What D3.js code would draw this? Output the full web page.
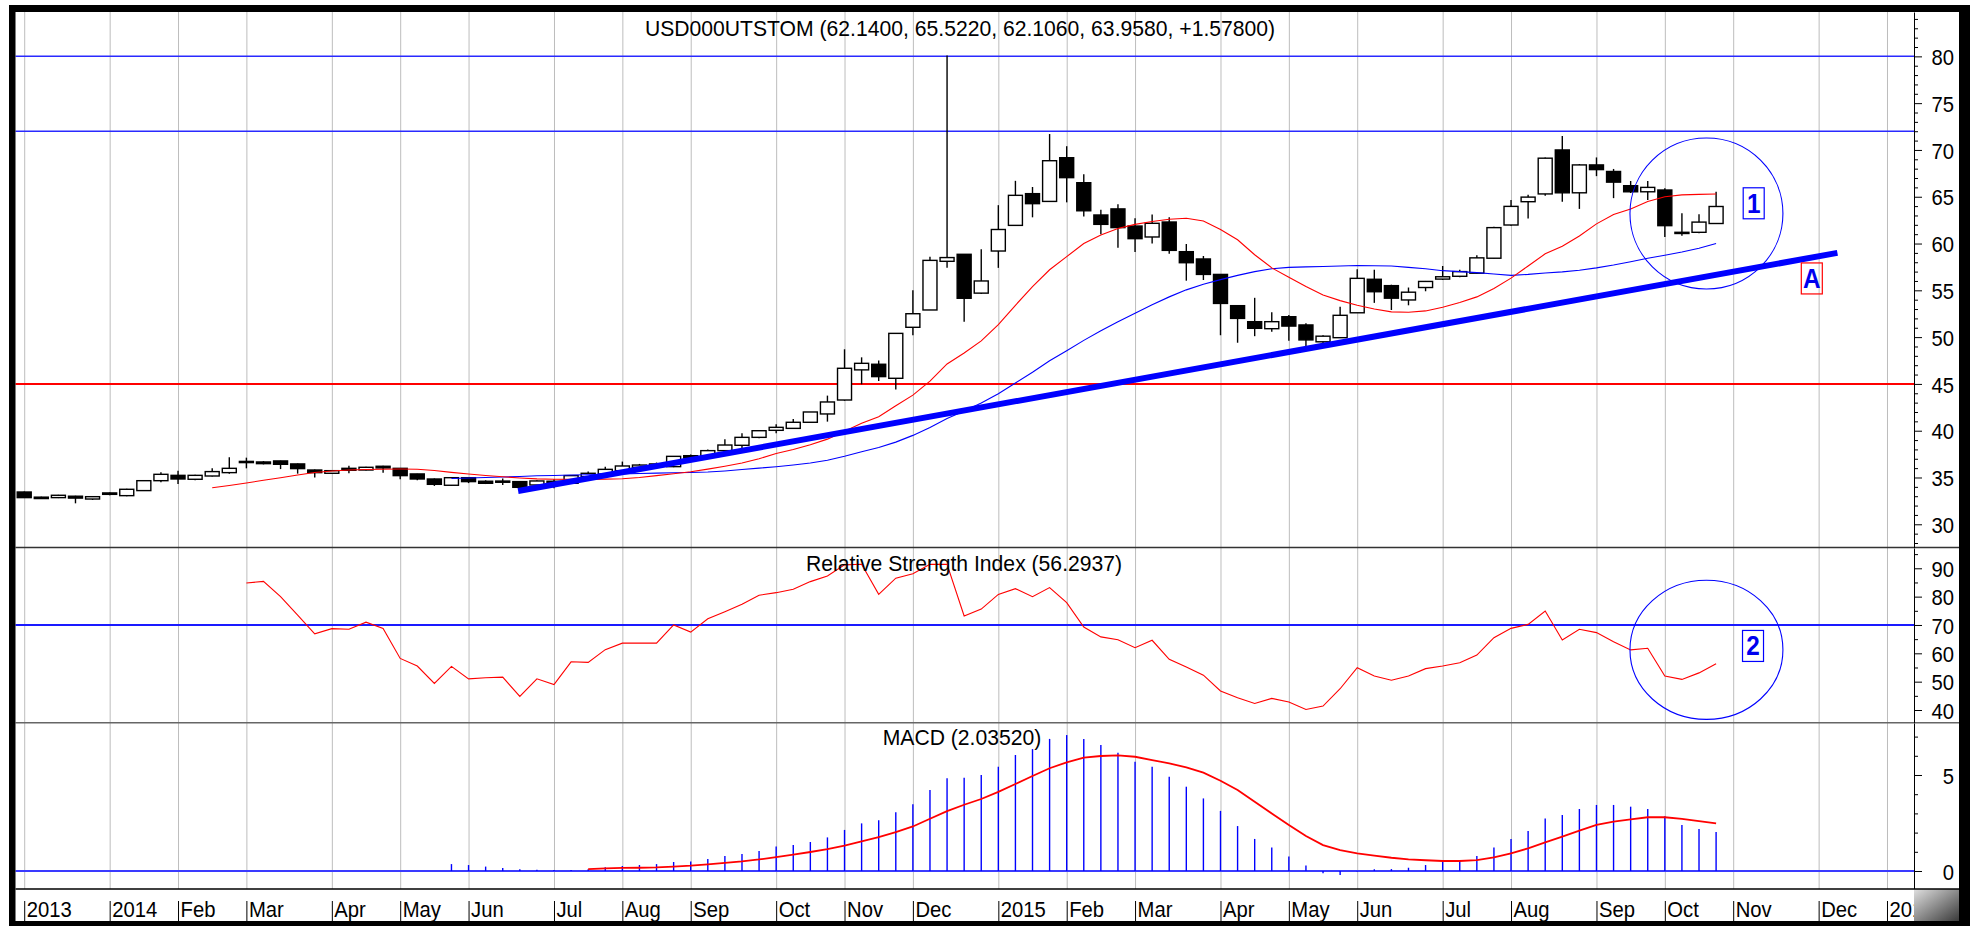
<!DOCTYPE html>
<html><head><meta charset="utf-8">
<script src="https://cdn.jsdelivr.net/npm/d3@7"></script>
<style>
body{margin:0;background:#fff;}
svg{display:block;}
text{font-family:"Liberation Sans",Arial,sans-serif;fill:#000;}
</style>
</head><body>
<svg id="chart" width="1973" height="926"></svg>
<script>
// ---------- DATA (weekly candles, index 0 = week of 2 Dec 2013) ----------
const opens  = [33.45,32.75,32.85,33.0,32.7,33.35,33.06,33.6,34.66,35.23,34.81,35.16,35.52,36.68,36.66,36.77,36.45,35.8,35.45,35.98,
                35.8,36.2,35.98,35.38,34.84,34.17,34.98,34.6,34.49,34.56,34.2,34.6,34.38,35.09,35.37,35.73,36.09,36.2,36.16,37.33,
                37.3,37.87,38.44,39.29,40.04,40.25,40.9,41.79,43.28,46.5,47.1,45.6,51.05,52.9,58.1,58.85,54.7,59.2,61.94,65.33,
                64.5,69.17,66.5,63.05,63.7,61.87,60.7,62.3,59.13,58.35,56.7,53.36,51.65,50.9,52.18,51.3,49.5,49.94,52.6,56.18,
                55.5,53.97,55.3,56.2,56.5,56.83,58.43,61.98,64.47,65.3,70.0,65.42,68.4,67.7,66.18,65.53,65.72,61.1,61.2,62.14];
const highs  = [33.5,32.95,33.15,33.05,33.0,33.4,33.8,34.7,35.55,35.73,35.3,36.0,37.16,37.12,36.75,36.8,36.5,35.85,35.8,36.25,
                36.15,36.25,36.0,35.4,34.9,35.0,35.05,34.7,34.9,34.6,34.7,34.8,35.25,35.65,36.16,36.7,36.45,36.6,37.3,37.45,
                38.0,39.08,39.72,40.05,40.7,41.25,42.0,43.75,48.7,47.84,47.5,50.4,55.0,58.6,80.1,58.85,59.4,64.1,66.7,66.04,
                71.7,70.4,67.4,63.6,64.2,62.7,63.1,62.8,59.95,58.67,56.7,53.4,54.2,52.65,52.36,51.47,50.2,53.25,57.24,57.2,
                55.6,55.3,56.0,57.6,57.2,58.74,61.8,64.65,65.2,69.2,71.5,68.5,69.2,67.97,66.68,66.68,65.9,63.24,63.13,65.522];
const lows   = [32.85,32.7,32.8,32.24,32.6,33.1,33.0,33.55,34.5,34.31,34.7,35.1,35.4,35.98,36.4,35.9,35.41,34.99,35.4,35.45,
                35.75,35.52,34.8,34.7,34.1,34.1,34.4,34.3,34.2,33.9,34.1,33.85,34.3,35.0,35.3,35.7,36.0,36.1,36.1,37.0,
                37.2,37.8,38.1,39.2,39.72,40.2,40.85,40.97,43.2,44.96,45.3,44.4,50.2,52.9,57.4,51.65,54.6,57.4,61.9,62.8,
                64.5,64.4,62.9,61.0,59.56,59.1,60.0,58.9,56.03,56.1,50.2,49.4,50.1,50.58,49.6,49.05,49.3,49.94,52.6,53.66,
                52.9,53.4,54.9,56.1,56.4,56.8,58.4,61.9,62.67,65.1,64.47,63.7,67.2,64.85,65.4,64.66,60.7,60.84,61.1,62.106];
const closes = [32.85,32.9,33.1,32.8,32.95,33.2,33.74,34.66,35.34,34.84,35.23,35.63,35.98,36.72,36.48,36.41,35.95,35.52,35.73,35.77,
                36.09,36.02,35.2,34.84,34.27,34.98,34.56,34.38,34.62,33.95,34.63,34.35,35.2,35.45,35.87,36.23,36.33,36.45,37.26,37.08,
                37.87,38.47,39.29,40.0,40.36,40.9,42.0,43.07,46.67,47.2,45.78,50.4,52.5,58.2,58.5,54.15,56.0,61.5,65.15,64.26,
                68.85,67.04,63.5,62.05,61.7,60.52,62.16,59.27,57.95,56.7,53.6,52.0,50.94,51.65,51.18,49.7,50.1,52.33,56.28,54.85,
                54.16,54.8,55.95,56.45,57.0,58.47,61.7,63.97,64.96,69.12,65.42,68.4,67.9,66.56,65.53,66.0,61.91,61.2,62.29,63.958];

// moving averages
const maShortStart = 11;
const maShort = [33.9,34.15,34.42,34.7,34.98,35.27,35.54,35.7,35.8,35.85,35.88,35.9,35.88,35.75,35.55,35.38,35.22,35.08,34.95,34.85,
                 34.82,34.8,34.8,34.83,34.87,35.0,35.2,35.4,35.62,35.89,36.2,36.55,37.0,37.56,38.0,38.5,39.1,39.95,40.8,41.5,
                 42.67,43.8,45.3,47.13,48.3,49.6,51.33,53.4,55.4,57.2,58.6,60.0,60.9,61.6,62.05,62.35,62.6,62.7,62.4,61.5,
                 60.4,58.8,57.4,56.4,55.4,54.5,53.9,53.4,53.0,52.7,52.65,52.8,53.2,53.7,54.3,55.2,56.3,57.6,58.9,59.7,
                 60.8,62.1,63.1,63.7,64.5,65.0,65.2,65.25,65.3];
const maLongStart = 25;
const maLong = [34.9,34.95,35.0,35.05,35.1,35.18,35.22,35.27,35.3,35.35,35.39,35.43,35.47,35.5,35.54,35.58,35.7,35.85,36.0,36.15,
                36.33,36.55,36.85,37.27,37.75,38.2,38.78,39.5,40.35,41.3,42.1,42.95,43.95,45.1,46.25,47.48,48.55,49.65,50.69,51.65,
                52.55,53.47,54.3,55.05,55.65,56.14,56.6,57.0,57.3,57.45,57.51,57.55,57.6,57.65,57.62,57.6,57.45,57.3,57.1,57.0,
                56.89,56.75,56.6,56.7,56.85,56.97,57.15,57.4,57.7,58.05,58.42,58.75,59.1,59.5,60.0];

// RSI
const rsiStart = 13;
const rsiValues = [84.8,85.4,80.0,73.5,66.9,68.7,68.5,71.0,68.8,58.2,55.5,49.4,55.4,51.0,51.4,51.6,44.8,51.0,49.0,57.0,
                   56.8,61.3,63.6,63.6,63.6,70.0,67.5,72.2,74.7,77.3,80.5,81.4,82.6,85.3,87.3,91.2,91.4,80.8,86.5,88.1,
                   91.4,91.4,73.2,75.6,80.8,82.8,80.0,83.2,77.9,69.3,65.8,64.8,62.0,64.6,57.9,55.2,52.3,46.7,44.3,42.3,
                   44.1,42.8,40.2,41.4,47.5,54.9,52.0,50.5,52.0,54.6,55.5,56.7,59.4,65.5,68.8,70.2,74.9,64.7,68.5,67.3,
                   64.1,61.2,61.8,52.0,50.8,53.1,56.29];

// MACD histogram and signal
const macdStart = 25;
const macdHist = [0.36,0.31,0.23,0.16,0.09,0.07,0.05,0.05,0.09,0.19,0.26,0.31,0.36,0.47,0.49,0.63,0.78,0.89,1.04,1.27,
                  1.35,1.51,1.75,2.14,2.48,2.64,3.06,3.47,4.22,4.83,4.86,5.0,5.43,6.04,6.35,6.88,7.08,6.88,6.56,6.16,
                  5.69,5.43,4.91,4.39,3.78,3.13,2.34,1.67,1.22,0.75,0.28,-0.12,-0.21,-0.02,0.09,0.10,0.17,0.31,0.49,0.57,
                  0.78,1.22,1.67,2.08,2.74,2.92,3.23,3.44,3.44,3.35,3.23,2.85,2.40,2.19,2.035];
const signalStart = 33;
const macdSignal = [0.10,0.14,0.16,0.17,0.19,0.23,0.28,0.35,0.42,0.50,0.60,0.72,0.85,0.99,1.14,1.32,1.54,1.77,2.02,2.32,
                    2.72,3.12,3.45,3.75,4.12,4.53,4.95,5.35,5.66,5.90,5.99,6.02,5.95,5.78,5.61,5.40,5.12,4.70,4.22,3.61,
                    3.0,2.40,1.82,1.35,1.09,0.92,0.80,0.69,0.61,0.56,0.52,0.52,0.57,0.71,0.92,1.18,1.49,1.79,2.10,2.40,
                    2.57,2.69,2.80,2.80,2.71,2.60,2.48];

// x-axis categories (week index of first week of each month)
const monthIdx    = [0,5,9,13,18,22,26,31,35,39,44,48,52,57,61,65,70,74,78,83,87,92,96,100,105,109];
const monthLabels = ["2013","2014","Feb","Mar","Apr","May","Jun","Jul","Aug","Sep","Oct","Nov","Dec",
                     "2015","Feb","Mar","Apr","May","Jun","Jul","Aug","Sep","Oct","Nov","Dec","2016"];

// tick labels
const priceTicks = [30,35,40,45,50,55,60,65,70,75,80];
const rsiTicks   = [40,50,60,70,80,90];
const macdTicks  = [0,5];

// horizontal levels and drawings
const resistanceLevels = [80,72];
const supportLevels    = [45];
const rsiLevels        = [70];
const trendLine  = [[28.9,33.55],[106.1,59.0]];
const priceEllipse = {i0:93.96, i1:102.91, v0:55.14, v1:71.28};
const rsiEllipse   = {i0:93.96, i1:102.91, v0:36.7,  v1:85.8};
const labelsPrice  = [{t:"1", i:101.2, v:64.3, box:"#0000ff"},{t:"A", i:104.6, v:56.27, box:"#ff0000"}];
const labelsRsi    = [{t:"2", i:101.16, v:62.6, box:"#0000ff"}];

const titlePrice = "USD000UTSTOM (62.1400, 65.5220, 62.1060, 63.9580, +1.57800)";
const titleRsi   = "Relative Strength Index (56.2937)";
const titleMacd  = "MACD (2.03520)";

// ---------- LAYOUT ----------
const L = 15.5, R = 1914;
const P = {top:12, bot:547.5}, RS = {top:548, bot:722.7}, M = {top:723, bot:889};
const axisBottomY = 889, frameInnerBottom = 921, frameInnerRight = 1959;
const FONT = "'Liberation Sans',Arial,sans-serif";

const svg = d3.select("#chart");
const x  = d3.scaleLinear().domain([-0.51, 110.58]).range([L, R]);
const yP = d3.scaleLinear().domain([27.52, 84.74]).range([P.bot, P.top]);
const yR = d3.scaleLinear().domain([35.52, 97.16]).range([RS.bot, RS.top]);
const yM = d3.scaleLinear().domain([-0.9375, 7.708]).range([M.bot, M.top]);

svg.append("rect").attr("width",1973).attr("height",926).attr("fill","#fff");

const defs = svg.append("defs");
defs.append("clipPath").attr("id","plotClip").append("rect")
  .attr("x",L).attr("y",P.top).attr("width",R-L).attr("height",frameInnerBottom-P.top);
const grad = defs.append("linearGradient").attr("id","shade").attr("x1","0").attr("x2","1").attr("y1","0").attr("y2","1");
grad.append("stop").attr("offset","0").attr("stop-color","#e0e0e0");
grad.append("stop").attr("offset","1").attr("stop-color","#3a3a3a");

// vertical month gridlines
svg.append("g").attr("transform",`translate(0,${axisBottomY})`)
  .call(d3.axisBottom(x).tickValues(monthIdx).tickSize(-(axisBottomY-P.top)).tickFormat(""))
  .call(g=>g.select(".domain").remove())
  .call(g=>g.selectAll("line").attr("stroke","#bdbdbd").attr("stroke-width",1));

// horizontal level lines
const lv = svg.append("g");
lv.selectAll(".res").data(resistanceLevels).join("line")
  .attr("x1",L).attr("x2",R).attr("y1",d=>yP(d)).attr("y2",d=>yP(d))
  .attr("stroke","#2a2aff").attr("stroke-width",1.5);
lv.selectAll(".sup").data(supportLevels).join("line")
  .attr("x1",L).attr("x2",R).attr("y1",d=>yP(d)).attr("y2",d=>yP(d))
  .attr("stroke","#ff0000").attr("stroke-width",2);
lv.selectAll(".rl").data(rsiLevels).join("line")
  .attr("x1",L).attr("x2",R).attr("y1",d=>yR(d)).attr("y2",d=>yR(d))
  .attr("stroke","#1a1aff").attr("stroke-width",1.8);
lv.append("line").attr("x1",L).attr("x2",R).attr("y1",yM(0)).attr("y2",yM(0))
  .attr("stroke","#3a3aff").attr("stroke-width",2);

// candles
const idx = d3.range(closes.length);
const cg = svg.append("g");
cg.selectAll(".wick").data(idx).join("line")
  .attr("x1",i=>x(i)).attr("x2",i=>x(i))
  .attr("y1",i=>yP(highs[i])).attr("y2",i=>yP(lows[i]))
  .attr("stroke","#000").attr("stroke-width",1.4);
cg.selectAll(".body").data(idx).join("rect")
  .attr("x",i=>x(i)-7).attr("width",14)
  .attr("y",i=>yP(Math.max(opens[i],closes[i])))
  .attr("height",i=>Math.max(1.2, Math.abs(yP(opens[i])-yP(closes[i]))))
  .attr("fill",i=>closes[i]>=opens[i]?"#fff":"#000")
  .attr("stroke","#000").attr("stroke-width",1.4);

// moving averages
const lineP = d3.line().x(d=>x(d[0])).y(d=>yP(d[1]));
svg.append("path").datum(maLong.map((v,k)=>[k+maLongStart,v])).attr("d",lineP)
  .attr("fill","none").attr("stroke","#0000ff").attr("stroke-width",1.1);
svg.append("path").datum(maShort.map((v,k)=>[k+maShortStart,v])).attr("d",lineP)
  .attr("fill","none").attr("stroke","#ff0000").attr("stroke-width",1.1);

// trend line
svg.append("path").datum(trendLine).attr("d",lineP)
  .attr("fill","none").attr("stroke","#0000ff").attr("stroke-width",6);

// RSI
svg.append("path").datum(rsiValues.map((v,k)=>[k+rsiStart,v]))
  .attr("d",d3.line().x(d=>x(d[0])).y(d=>yR(d[1])))
  .attr("fill","none").attr("stroke","#ff0000").attr("stroke-width",1.1);

// MACD histogram
svg.append("g").selectAll("line").data(macdHist.map((v,k)=>[k+macdStart,v])).join("line")
  .attr("x1",d=>x(d[0])).attr("x2",d=>x(d[0]))
  .attr("y1",yM(0)).attr("y2",d=>yM(d[1]))
  .attr("stroke","#0000ff").attr("stroke-width",1.4);
svg.append("path").datum(macdSignal.map((v,k)=>[k+signalStart,v]))
  .attr("d",d3.line().x(d=>x(d[0])).y(d=>yM(d[1])))
  .attr("fill","none").attr("stroke","#ff0000").attr("stroke-width",1.8);

// ellipses
function ellipse(e, ys){
  svg.append("ellipse")
    .attr("cx",(x(e.i0)+x(e.i1))/2).attr("cy",(ys(e.v0)+ys(e.v1))/2)
    .attr("rx",(x(e.i1)-x(e.i0))/2).attr("ry",Math.abs(ys(e.v0)-ys(e.v1))/2)
    .attr("fill","none").attr("stroke","#0000ff").attr("stroke-width",1.1);
}
ellipse(priceEllipse, yP);
ellipse(rsiEllipse, yR);

// boxed labels
function boxLabels(data, ys){
  const g = svg.append("g").selectAll("g").data(data).join("g")
    .attr("transform",d=>`translate(${x(d.i)},${ys(d.v)})`);
  g.append("rect").attr("x",-10.5).attr("y",-15.5).attr("width",21).attr("height",31)
    .attr("fill","none").attr("stroke",d=>d.box).attr("stroke-width",1.2);
  g.append("text").text(d=>d.t).attr("text-anchor","middle").attr("y",9.5)
    .attr("transform","scale(0.9,1)")
    .style("font-size","27px").style("font-weight","bold").style("fill","#0000ee");
}
boxLabels(labelsPrice, yP);
boxLabels(labelsRsi, yR);

// titles (slightly condensed like the source)
function title(t, cx, by){
  svg.append("text").attr("transform",`translate(${cx},${by}) scale(0.94,1)`)
    .attr("text-anchor","middle").style("font-size","22.5px").text(t);
}
title(titlePrice, 960, 36);
title(titleRsi, 964, 570.5);
title(titleMacd, 962, 744.5);

// panel separators
svg.append("line").attr("x1",L).attr("x2",frameInnerRight).attr("y1",P.bot).attr("y2",P.bot).attr("stroke","#333").attr("stroke-width",1.6);
svg.append("line").attr("x1",L).attr("x2",frameInnerRight).attr("y1",RS.bot).attr("y2",RS.bot).attr("stroke","#666").attr("stroke-width",1.4);

// right axes
function rightAxis(scale, all, major){
  const minor = all.filter(v=>!major.includes(v));
  const g = svg.append("g").attr("transform",`translate(${R},0)`);
  g.append("g").call(d3.axisRight(scale).tickValues(minor).tickSize(4).tickSizeOuter(0).tickFormat(""))
    .call(a=>a.selectAll("line").attr("stroke","#000"))
    .call(a=>a.select(".domain").attr("stroke","#000"));
  g.append("g").call(d3.axisRight(scale).tickValues(major).tickSize(8).tickSizeOuter(0))
    .call(a=>a.select(".domain").remove())
    .call(a=>a.selectAll("line").attr("stroke","#000"))
    .call(a=>a.selectAll("text").attr("x",0).attr("dy","0.36em")
       .attr("transform","translate(40,0) scale(0.9,1)")
       .attr("text-anchor","end").style("font-size","22.5px")
       .style("font-family",FONT).attr("fill","#000"));
}
rightAxis(yP, d3.range(28,85), priceTicks);
rightAxis(yR, d3.range(40,100,5), rsiTicks);
rightAxis(yM, d3.range(0,8), macdTicks);

// bottom axis band
svg.append("rect").attr("x",R).attr("y",axisBottomY).attr("width",frameInnerRight-R).attr("height",frameInnerBottom-axisBottomY)
  .attr("fill","url(#shade)");
const xa = svg.append("g").attr("transform",`translate(0,${axisBottomY})`).attr("clip-path","url(#plotClip)");
xa.append("g").call(d3.axisBottom(x).tickValues(d3.range(0,111)).tickSize(7).tickSizeOuter(0).tickFormat(""))
  .call(a=>a.select(".domain").remove())
  .call(a=>a.selectAll("line").attr("stroke","#000").attr("stroke-width",1));
xa.append("g").call(d3.axisBottom(x).tickValues(monthIdx).tickSize(frameInnerBottom-axisBottomY)
    .tickFormat((d,k)=>monthLabels[k]))
  .call(a=>a.select(".domain").remove())
  .call(a=>a.selectAll("line").attr("stroke","#000").attr("stroke-width",1))
  .call(a=>a.selectAll("text").attr("x",0).attr("y",0).attr("dy",0)
     .attr("transform","translate(2,28) scale(0.9,1)")
     .attr("text-anchor","start").style("font-size","22.5px")
     .style("font-family",FONT).attr("fill","#000"));
svg.append("line").attr("x1",L).attr("x2",frameInnerRight).attr("y1",axisBottomY).attr("y2",axisBottomY)
  .attr("stroke","#000").attr("stroke-width",1.6);

// outer frame
svg.append("path")
  .attr("d","M9,5H1970V926H9Z M15.5,12V921H1959V12Z")
  .attr("fill","#000").attr("fill-rule","evenodd");
</script>
</body></html>
